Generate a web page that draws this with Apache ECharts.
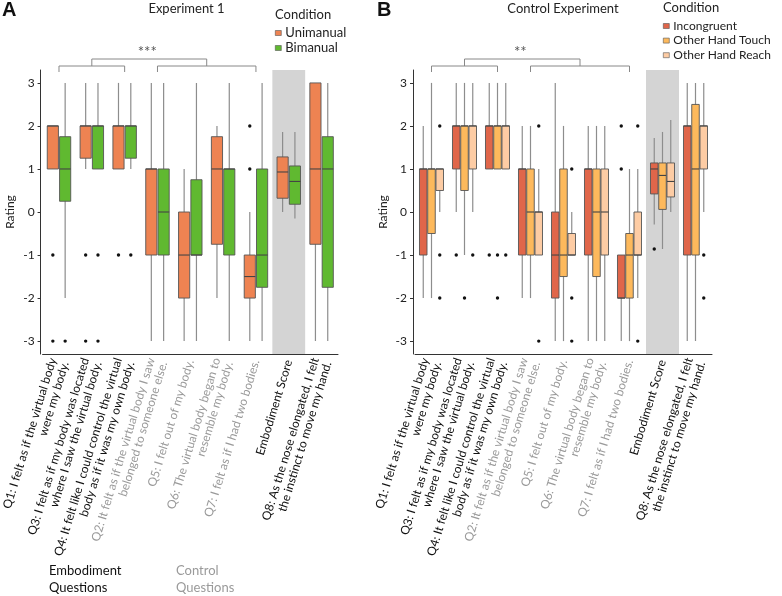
<!DOCTYPE html>
<html><head><meta charset="utf-8">
<script src="https://cdn.jsdelivr.net/npm/echarts/dist/echarts.min.js"></script>
<style>html,body{margin:0;padding:0;background:#fff}#c{width:782px;height:596px}</style>
</head><body><div id="c"></div>
<script>
// ---------- data ----------
const categories = [
  'Q1: I felt as if the virtual body\nwere my body.',
  'Q3: I felt as if my body was located\nwhere I saw the virtual body.',
  'Q4: It felt like I could control the virtual\nbody as if it was my own body.',
  'Q2: It felt as if the virtual body I saw\nbelonged to someone else.',
  'Q5: I felt out of my body.',
  'Q6: The virtual body began to\nresemble my body.',
  'Q7: I felt as if I had two bodies.',
  'Embodiment Score',
  'Q8: As the nose elongated, I felt\nthe instinct to move my hand.'
];
const yTicks = [-3, -2, -1, 0, 1, 2, 3];
// box stats per category: [min, q1, median, q3, max]
const unimanual = [
  [1, 1, 2, 2, 2], [1, 1.25, 2, 2, 3], [1, 1, 2, 2, 3], [-3, -1, 1, 1, 3],
  [-3, -2, -1, 0, 1], [-2, -0.75, 1, 1.75, 2], [-3, -2, -1.5, -1, 0],
  [0, 0.32, 0.93, 1.28, 1.86], [-3, -0.75, 1, 3, 3]
];
const bimanual = [
  [-2, 0.25, 1, 1.75, 3], [1, 1, 2, 2, 3], [1, 1.25, 2, 2, 3], [-3, -1, 0, 1, 3],
  [-3, -1, -1, 0.75, 3], [-3, -1, 1, 1, 3], [-3, -1.75, -1, 1, 3],
  [-0.15, 0.18, 0.71, 1.07, 1.86], [-3, -1.75, 1, 1.75, 3]
];
const unimanualOutliers = [[0, -1], [0, -3], [1, -1], [1, -3], [2, -1], [6, 2], [6, 1]];
const bimanualOutliers = [[0, -3], [1, -1], [1, -3], [2, -1]];

const incongruent = [
  [-2, -1, 1, 1, 2], [0, 1, 2, 2, 3], [1, 1, 2, 2, 3], [-2, -1, 1, 1, 2],
  [-3, -2, -1, 0, 3], [-3, -1, 1, 1, 2], [-3, -2, -2, -1, -1],
  [-0.29, 0.42, 1.0, 1.14, 1.72], [-3, -1, 2, 2, 3]
];
const otherHandTouch = [
  [-2, -0.5, 1, 1, 3], [-1, 0.5, 2, 2, 3], [1, 1, 2, 2, 3], [-2, -1, 0, 1, 2],
  [-3, -1.5, -1, 1, 2], [-3, -1.5, 0, 1, 2], [-3, -2, -1, -0.5, 1],
  [-0.86, 0.06, 0.85, 1.14, 1.86], [-3, -1, 1, 2.5, 3]
];
const otherHandReach = [
  [0, 0.5, 1, 1, 1], [0, 1, 2, 2, 3], [1, 1, 2, 2, 3], [-1, -1, 0, 0, 1],
  [-1, -1, -1, -0.5, 0], [-3, -1, 0, 1, 2], [-2, -1, -1, 0, 1],
  [0, 0.35, 0.71, 1.14, 2.14], [0, 1, 2, 2, 3]
];
const incongruentOutliers = [[1, -1], [2, -1], [6, 2], [6, 1], [7, -0.86]];
const otherHandTouchOutliers = [[1, -2], [2, -1], [2, -2]];
const otherHandReachOutliers = [[0, 2], [0, -1], [0, -2], [1, -1], [2, -1], [3, 2], [3, -3],
  [4, 1], [4, -2], [4, -3], [6, 2], [6, -3], [8, -1], [8, -2]];

const highlightIndex = 7; // Embodiment Score band

// ---------- style ----------
const FONT = 'Lato';
const colA = ['#EE8352', '#60B930'];
const colB = ['#E0664A', '#FDB95C', '#FDCCA4'];
const WHISKER = '#8d8d8d', BORDER = '#555555', MEDIAN = '#444444';

function boxSeries(name, stats, idx, n, slotFrac, boxFrac, color, axis) {
  return {
    type: 'custom', name: name, xAxisIndex: axis, yAxisIndex: axis, z: 3,
    itemStyle: { color: color, borderColor: BORDER },
    data: stats.map((s, i) => [i].concat(s)),
    encode: { x: 0, y: [1, 2, 3, 4, 5] },
    renderItem: function (params, api) {
      const cat = api.value(0);
      const band = api.size([1, 0])[0];
      const x = api.coord([cat, 0])[0] + (idx - (n - 1) / 2) * band * slotFrac;
      const w = band * boxFrac;
      const y = k => api.coord([cat, api.value(k)])[1];
      const yMin = y(1), yQ1 = y(2), yMed = y(3), yQ3 = y(4), yMax = y(5);
      return { type: 'group', children: [
        { type: 'line', shape: { x1: x, y1: yMax, x2: x, y2: yMin }, style: { stroke: WHISKER, lineWidth: 1.2 } },
        { type: 'rect', shape: { x: x - w / 2, y: yQ3, width: w, height: yQ1 - yQ3 }, style: { fill: color, stroke: BORDER, lineWidth: 0.9 } },
        { type: 'line', shape: { x1: x - w / 2, y1: yMed, x2: x + w / 2, y2: yMed }, style: { stroke: MEDIAN, lineWidth: 1.1 } }
      ] };
    }
  };
}
function outlierSeries(name, pts, idx, n, slotFrac, axis) {
  return {
    type: 'custom', name: name, xAxisIndex: axis, yAxisIndex: axis, z: 4,
    data: pts, encode: { x: 0, y: 1 },
    renderItem: function (params, api) {
      const band = api.size([1, 0])[0];
      const p = api.coord([api.value(0), api.value(1)]);
      return { type: 'circle', shape: { cx: p[0] + (idx - (n - 1) / 2) * band * slotFrac, cy: p[1], r: 1.7 }, style: { fill: '#111' } };
    }
  };
}
function bandSeries(axis) {
  return {
    type: 'custom', name: 'band' + axis, xAxisIndex: axis, yAxisIndex: axis, z: 1, silent: true,
    data: [[highlightIndex, 0]], encode: { x: 0, y: 1 },
    renderItem: function (params, api) {
      const band = api.size([1, 0])[0];
      const x = api.coord([api.value(0), 0])[0];
      const cs = params.coordSys;
      return { type: 'rect', shape: { x: x - band / 2, y: cs.y, width: band, height: cs.height }, style: { fill: '#d4d4d4' } };
    }
  };
}
function xAxis(gi) {
  return {
    type: 'category', gridIndex: gi, data: categories,
    axisLine: { onZero: false, lineStyle: { color: '#333', width: 1 } },
    axisTick: { alignWithLabel: true, length: 3, lineStyle: { color: '#333' } },
    axisLabel: {
      interval: 0, rotate: 73, margin: 6, fontFamily: FONT, fontSize: 12, lineHeight: 13,
      color: (v, i) => (i >= 3 && i <= 6) ? '#9a9a9a' : '#111'
    }
  };
}
function yAxis(gi) {
  return {
    type: 'value', gridIndex: gi, min: -3.3, max: 3.3, offset: 2,
    name: 'Rating', nameLocation: 'middle', nameGap: 24, nameRotate: 90,
    nameTextStyle: { fontFamily: FONT, fontSize: 12, color: '#222' },
    splitLine: { show: false },
    axisLine: { show: true, lineStyle: { color: '#333', width: 1 } },
    axisTick: { show: true, length: 3, customValues: yTicks, lineStyle: { color: '#333' } },
    axisLabel: { customValues: yTicks, margin: 6, fontFamily: FONT, fontSize: 12, color: '#222' }
  };
}

const chart = echarts.init(document.getElementById('c'), null, { renderer: 'canvas' });
const option = {
  backgroundColor: '#fff',
  animation: false,
  textStyle: { fontFamily: FONT },
  grid: [
    { left: 38, top: 70, width: 300, height: 284 },
    { left: 415, top: 70, width: 297, height: 284 }
  ],
  xAxis: [xAxis(0), xAxis(1)],
  yAxis: [yAxis(0), yAxis(1)],
  legend: [
    { data: ['Unimanual', 'Bimanual'], orient: 'vertical', left: 273, top: 24.5, icon: 'rect',
      itemWidth: 6, itemHeight: 5, itemGap: 2, selectedMode: false, padding: 2,
      itemStyle: { borderColor: BORDER, borderWidth: 0.6 },
      textStyle: { fontFamily: FONT, fontSize: 13, color: '#222', padding: [0, 0, 0, -1] } },
    { data: ['Incongruent', 'Other Hand Touch', 'Other Hand Reach'], orient: 'vertical', left: 661, top: 18, icon: 'rect',
      itemWidth: 6, itemHeight: 5, itemGap: 2.6, selectedMode: false, padding: 2,
      itemStyle: { borderColor: BORDER, borderWidth: 0.6 },
      textStyle: { fontFamily: FONT, fontSize: 12, color: '#222', padding: [0, 0, 0, -1] } }
  ],
  series: [
    bandSeries(0), bandSeries(1),
    boxSeries('Unimanual', unimanual, 0, 2, 0.375, 0.34, colA[0], 0),
    boxSeries('Bimanual', bimanual, 1, 2, 0.375, 0.34, colA[1], 0),
    outlierSeries('o-uni', unimanualOutliers, 0, 2, 0.375, 0),
    outlierSeries('o-bi', bimanualOutliers, 1, 2, 0.375, 0),
    boxSeries('Incongruent', incongruent, 0, 3, 0.25, 0.228, colB[0], 1),
    boxSeries('Other Hand Touch', otherHandTouch, 1, 3, 0.25, 0.228, colB[1], 1),
    boxSeries('Other Hand Reach', otherHandReach, 2, 3, 0.25, 0.228, colB[2], 1),
    outlierSeries('o-inc', incongruentOutliers, 0, 3, 0.25, 1),
    outlierSeries('o-oht', otherHandTouchOutliers, 1, 3, 0.25, 1),
    outlierSeries('o-ohr', otherHandReachOutliers, 2, 3, 0.25, 1)
  ]
};
chart.setOption(option);

// ---------- annotations (brackets, titles) ----------
function brackets(axis, stars) {
  const px = i => chart.convertToPixel({ xAxisIndex: axis }, i);
  const l0 = px(0), l1 = px(2), r0 = px(3), r1 = px(6);
  const lm = (l0 + l1) / 2, rm = (r0 + r1) / 2;
  const ls = { stroke: '#888', lineWidth: 1 };
  const pl = pts => ({ type: 'polyline', shape: { points: pts }, style: Object.assign({ fill: null }, ls), silent: true });
  return [
    pl([[l0, 72], [l0, 66], [l1, 66], [l1, 72]]),
    pl([[r0, 72], [r0, 66], [r1, 66], [r1, 72]]),
    pl([[lm, 66], [lm, 59], [rm, 59], [rm, 66]]),
    { type: 'text', x: (lm + rm) / 2 - 2, y: 52.5, style: { text: stars, fontFamily: FONT, fontSize: 15, fill: '#555', align: 'center', verticalAlign: 'middle' } }
  ];
}
const txt = (t, x, y, o) => ({ type: 'text', x: x, y: y, style: Object.assign({ text: t, fontFamily: FONT, fontSize: 13, fill: '#222', align: 'left', verticalAlign: 'middle' }, o || {}) });
chart.setOption({
  graphic: [].concat(
    brackets(0, '***'), brackets(1, '**'),
    [
      txt('A', 2, 10, { fontSize: 20, fontWeight: 'bold', fill: '#111', fontFamily: 'Liberation Sans' }),
      txt('B', 377, 10, { fontSize: 20, fontWeight: 'bold', fill: '#111', fontFamily: 'Liberation Sans' }),
      txt('Experiment 1', 186.5, 9, { align: 'center' }),
      txt('Control Experiment', 563, 9, { align: 'center' }),
      txt('Condition', 275, 15),
      txt('Condition', 663, 8),
      txt('Embodiment\nQuestions', 49, 579.5, { lineHeight: 17, fill: '#111' }),
      txt('Control\nQuestions', 176, 579.5, { lineHeight: 17, fill: '#9a9a9a' })
    ]
  )
});
</script></body></html>
